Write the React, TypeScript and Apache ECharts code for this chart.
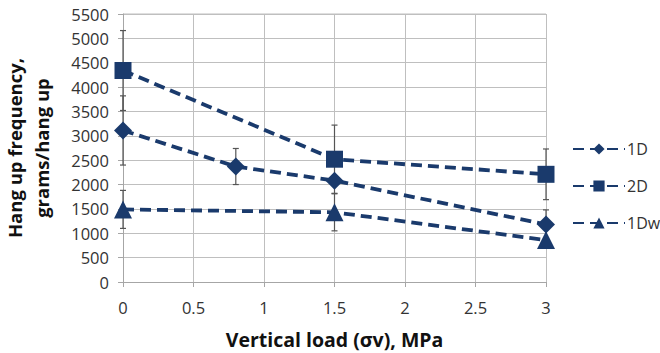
import React, { useEffect, useRef } from "react";
import * as echarts from "echarts";

const seriesNames = ["1D", "2D", "1Dw"];
const x1D = [0, 0.8, 1.5, 3];
const y1D = [3110, 2370, 2080, 1180];
const e1D = [710, 370, 0, 300];
const x2D = [0, 1.5, 3];
const y2D = [4340, 2520, 2210];
const e2D = [820, 700, 520];
const x1Dw = [0, 1.5, 3];
const y1Dw = [1490, 1430, 860];
const e1Dw = [390, 380, 0];

const navy = "#1a3a6c";
const font = "'Open Sans', 'Noto Sans', sans-serif";

function pairs(xs: number[], ys: number[]) {
  return xs.map((x, i) => [x, ys[i]]);
}
function errPairs(xs: number[], ys: number[], es: number[]) {
  return xs.map((x, i) => [x, ys[i] - es[i], ys[i] + es[i]]).filter((_, i) => es[i] > 0);
}

export default function App() {
  const ref = useRef<HTMLDivElement>(null);
  useEffect(() => {
    if (!ref.current) return;
    const chart = echarts.init(ref.current, undefined, { renderer: "svg" });
    const errRender = (params: any, api: any) => {
      const x = api.value(0);
      const lo = api.coord([x, api.value(1)]);
      const hi = api.coord([x, api.value(2)]);
      const c = 3;
      const st = { stroke: "#555555", lineWidth: 1.2 };
      return {
        type: "group",
        children: [
          { type: "line", shape: { x1: lo[0], y1: lo[1], x2: hi[0], y2: hi[1] }, style: st },
          { type: "line", shape: { x1: lo[0] - c, y1: lo[1], x2: lo[0] + c, y2: lo[1] }, style: st },
          { type: "line", shape: { x1: hi[0] - c, y1: hi[1], x2: hi[0] + c, y2: hi[1] }, style: st },
        ],
      };
    };
    const lineCommon = {
      type: "line",
      color: navy,
      lineStyle: { color: navy, width: 3.8, type: [11, 6] },
      itemStyle: { color: navy },
      z: 3,
    };
    chart.setOption({
      animation: false,
      grid: { left: 123, right: 114, top: 14, bottom: 71, outerBoundsMode: "none", containLabel: false },
      legend: {
        orient: "vertical",
        left: 567,
        top: 136,
        itemGap: 21,
        itemWidth: 52,
        itemHeight: 14,
        textStyle: { fontFamily: font, fontSize: 16, color: "#333", padding: [0, 0, 0, -3] },
        data: seriesNames,
      },
      xAxis: {
        type: "value",
        min: 0,
        max: 3,
        interval: 0.5,
        name: "Vertical load (σv), MPa",
        nameLocation: "middle",
        nameGap: 47,
        nameTextStyle: { fontFamily: font, fontSize: 19.5, fontWeight: "bold", color: "#111" },
        axisLine: { show: true, lineStyle: { color: "#a6a6a6" } },
        axisTick: { show: true, inside: false, length: 5, lineStyle: { color: "#a6a6a6" } },
        axisLabel: { fontFamily: font, fontSize: 16.5, color: "#333", margin: 17 },
        splitLine: { show: true, lineStyle: { color: "#bfbfbf" } },
      },
      yAxis: {
        type: "value",
        min: 0,
        max: 5500,
        interval: 500,
        name: "Hang up frequency,\ngrams/hang up",
        nameLocation: "middle",
        nameGap: 68,
        nameRotate: 90,
        nameTextStyle: { fontFamily: font, fontSize: 18.5, fontWeight: "bold", color: "#111", lineHeight: 27 },
        axisLine: { show: true, lineStyle: { color: "#a6a6a6" } },
        axisTick: { show: true, length: 5, lineStyle: { color: "#a6a6a6" } },
        axisLabel: { fontFamily: font, fontSize: 16.5, color: "#333", margin: 14, formatter: (v: number) => String(v) },
        splitLine: { show: true, lineStyle: { color: "#bfbfbf" } },
      },
      graphic: [
        { type: "line", shape: { x1: 123, y1: 14, x2: 546, y2: 14 }, style: { stroke: "#bfbfbf" } },
      ],
      series: [
        { ...lineCommon, name: "1D", symbol: "diamond", symbolSize: 18, data: pairs(x1D, y1D) },
        { ...lineCommon, name: "2D", symbol: "rect", symbolSize: 17, data: pairs(x2D, y2D) },
        { ...lineCommon, name: "1Dw", symbol: "triangle", symbolSize: 18, data: pairs(x1Dw, y1Dw) },
        { type: "custom", renderItem: errRender, data: errPairs(x1D, y1D, e1D), z: 2, silent: true },
        { type: "custom", renderItem: errRender, data: errPairs(x2D, y2D, e2D), z: 2, silent: true },
        { type: "custom", renderItem: errRender, data: errPairs(x1Dw, y1Dw, e1Dw), z: 2, silent: true },
      ],
    });
    return () => chart.dispose();
  }, []);
  return <div ref={ref} style={{ width: 660, height: 353, position: "absolute", left: 0, top: 0 }} />;
}
